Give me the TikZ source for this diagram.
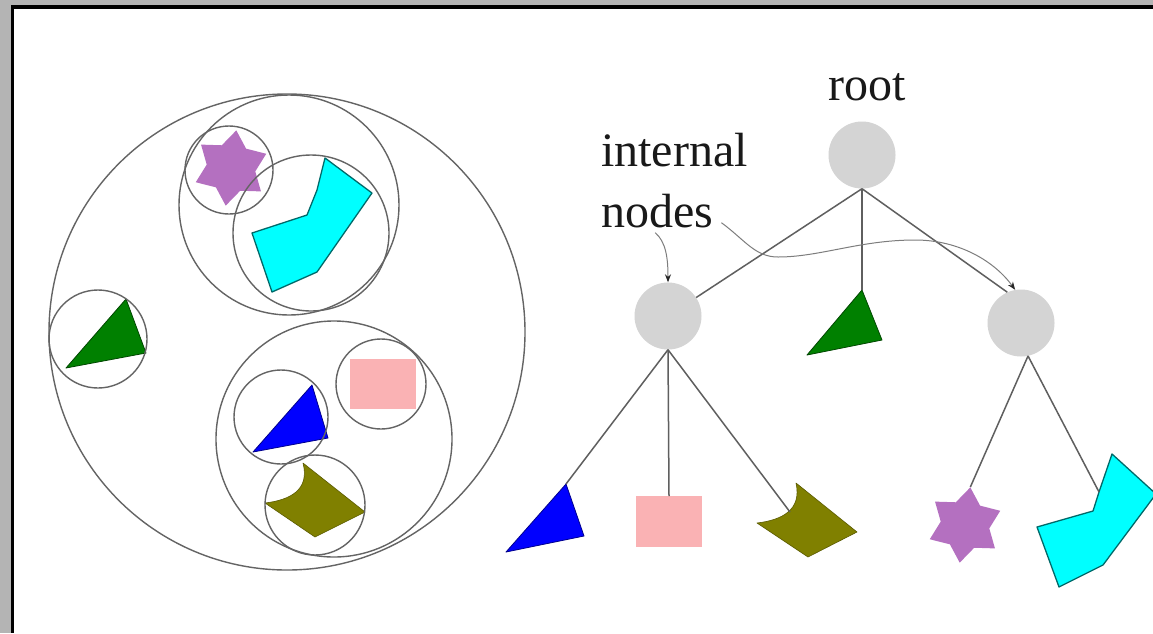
\documentclass[tikz,border=0pt]{standalone}
\usepackage{fontspec}
\setmainfont{Liberation Serif}
\usetikzlibrary{shapes.geometric,arrows.meta}

\definecolor{framegray}{RGB}{180,180,180}
\definecolor{setline}{RGB}{100,100,100}
\definecolor{edgegray}{RGB}{95,95,95}
\definecolor{nodegray}{RGB}{212,212,212}
\definecolor{labelgray}{RGB}{125,125,125}
\definecolor{leafgreen}{RGB}{0,128,0}
\definecolor{leafblue}{RGB}{0,0,255}
\definecolor{leafpink}{RGB}{250,178,180}
\definecolor{leafolive}{RGB}{128,128,0}
\definecolor{leafpurple}{RGB}{180,112,192}
\definecolor{leafcyan}{RGB}{0,255,255}
\definecolor{cyanedge}{RGB}{0,105,105}
\definecolor{textdark}{RGB}{25,25,25}

\begin{document}
\begin{tikzpicture}[x=1pt,y=-1pt,
  setcircle/.style={draw=setline,line width=1.4pt},
  treenode/.style={circle,fill=nodegray,minimum size=67pt,inner sep=0pt},
  treeedge/.style={draw=edgegray,line width=1.5pt},
  labelarrow/.style={draw=labelgray,line width=1pt,
    -{Stealth[length=8pt,width=6pt,color=black!85]}},
  labeltext/.style={font=\fontsize{48}{58}\selectfont,text=textdark,inner sep=0pt},
  greenleaf/.style={fill=leafgreen,draw=leafgreen!55!black,line width=0.8pt,line join=round},
  blueleaf/.style={fill=leafblue,draw=leafblue!55!black,line width=0.8pt,line join=round},
  pinkleaf/.style={fill=leafpink},
  oliveleaf/.style={fill=leafolive,draw=leafolive!70!black,line width=0.6pt,line join=round},
  cyanleaf/.style={fill=leafcyan,draw=cyanedge,line width=1.3pt,line join=round},
  starleaf/.style={star,star points=6,star point ratio=1.55,minimum size=76pt,
    inner sep=0pt,fill=leafpurple,shape border rotate=-8}
]
\useasboundingbox (0,0) rectangle (1153,633);

% window frame
\fill[framegray] (0,0) rectangle (1153,633);
\fill[white] (12.5,7) rectangle (1153,633);
\draw[black,line width=4pt] (11,7) -- (1153,7);
\draw[black,line width=3pt] (12.5,5) -- (12.5,633);

% ---------- nested sets ----------
% leaf objects inside the sets
\node[starleaf] (starS) at (231,168) {};
\draw[cyanleaf] (325,158) -- (372,193) -- (317,272) -- (272,292) -- (252,233)
  -- (307,215) -- (317,190) -- cycle;
\draw[greenleaf] (126,299) -- (146,353) -- (66,368) -- cycle;
\fill[pinkleaf] (350,359) rectangle (416,409);
\draw[blueleaf] (312,385) -- (328,438) -- (253,452) -- cycle;
\draw[oliveleaf] (303,463) -- (365,512) -- (315,537) -- (265,503)
  .. controls (290,500) and (310,490) .. (303,463) -- cycle;

% bounding circles
\draw[setcircle] (287,332) circle[radius=238pt];
\draw[setcircle] (289,205) circle[radius=110pt];
\draw[setcircle] (229,170) circle[radius=44pt];
\draw[setcircle] (311,233) circle[radius=78pt];
\draw[setcircle] (98,339) circle[radius=49pt];
\draw[setcircle] (334,439) circle[radius=118pt];
\draw[setcircle] (381,384) circle[radius=45pt];
\draw[setcircle] (281,417) circle[radius=47pt];
\draw[setcircle] (315,505) circle[radius=50pt];

% ---------- tree ----------
\node[treenode] (root) at (862,155) {};
\node[treenode] (inL) at (668,316) {};
\node[treenode] (inR) at (1021,323) {};

% leaves
\draw[greenleaf] (862,290) -- (882,340) -- (807,355) -- cycle;
\coordinate (leafGreen) at (862,290);
\draw[blueleaf] (566,484) -- (584,536) -- (506,552) -- cycle;
\coordinate (leafBlue) at (566,484);
\fill[pinkleaf] (636,496) rectangle (702,547);
\coordinate (leafPink) at (669,496);
\draw[oliveleaf] (796,483) -- (857,532) -- (808,557) -- (757,523)
  .. controls (782,520) and (802,510) .. (796,483) -- cycle;
\coordinate (leafOlive) at (790,512);
\node[starleaf] (starT) at (965,525) {};
\draw[cyanleaf] (1112,454) -- (1156,494) -- (1103,565) -- (1059,587) -- (1037,527)
  -- (1093,511) -- (1099,492) -- cycle;
\coordinate (leafCyan) at (1099,492);

% edges
\draw[treeedge] (root.south) -- (inL);
\draw[treeedge] (root.south) -- (leafGreen);
\draw[treeedge] (root.south) -- (inR.114);
\draw[treeedge] (inL.south) -- (leafBlue);
\draw[treeedge] (inL.south) -- (leafPink);
\draw[treeedge] (inL.south) -- (leafOlive);
\draw[treeedge] (inR.-78) -- (starT.outer point 1);
\draw[treeedge] (inR.-78) -- (leafCyan);

% labels
\node[labeltext,anchor=base] (lblRoot) at (867,100) {root};
\node[labeltext,anchor=base west] (lblInternal) at (601,166) {internal};
\node[labeltext,anchor=base west] (lblNodes) at (601,227) {nodes};

% label pointers
\draw[labelarrow] ([shift={(-2,5)}]lblNodes.south)
  .. controls (666,242) and (668,258) .. (inL.north);
\draw[labelarrow] ([shift={(8,-5)}]lblNodes.south east)
  .. controls (745,240) and (755,257) .. (778,257)
  .. controls (820,257) and (860,240) .. (915,240)
  .. controls (960,240) and (995,262) .. (inR.100);
\end{tikzpicture}
\end{document}
